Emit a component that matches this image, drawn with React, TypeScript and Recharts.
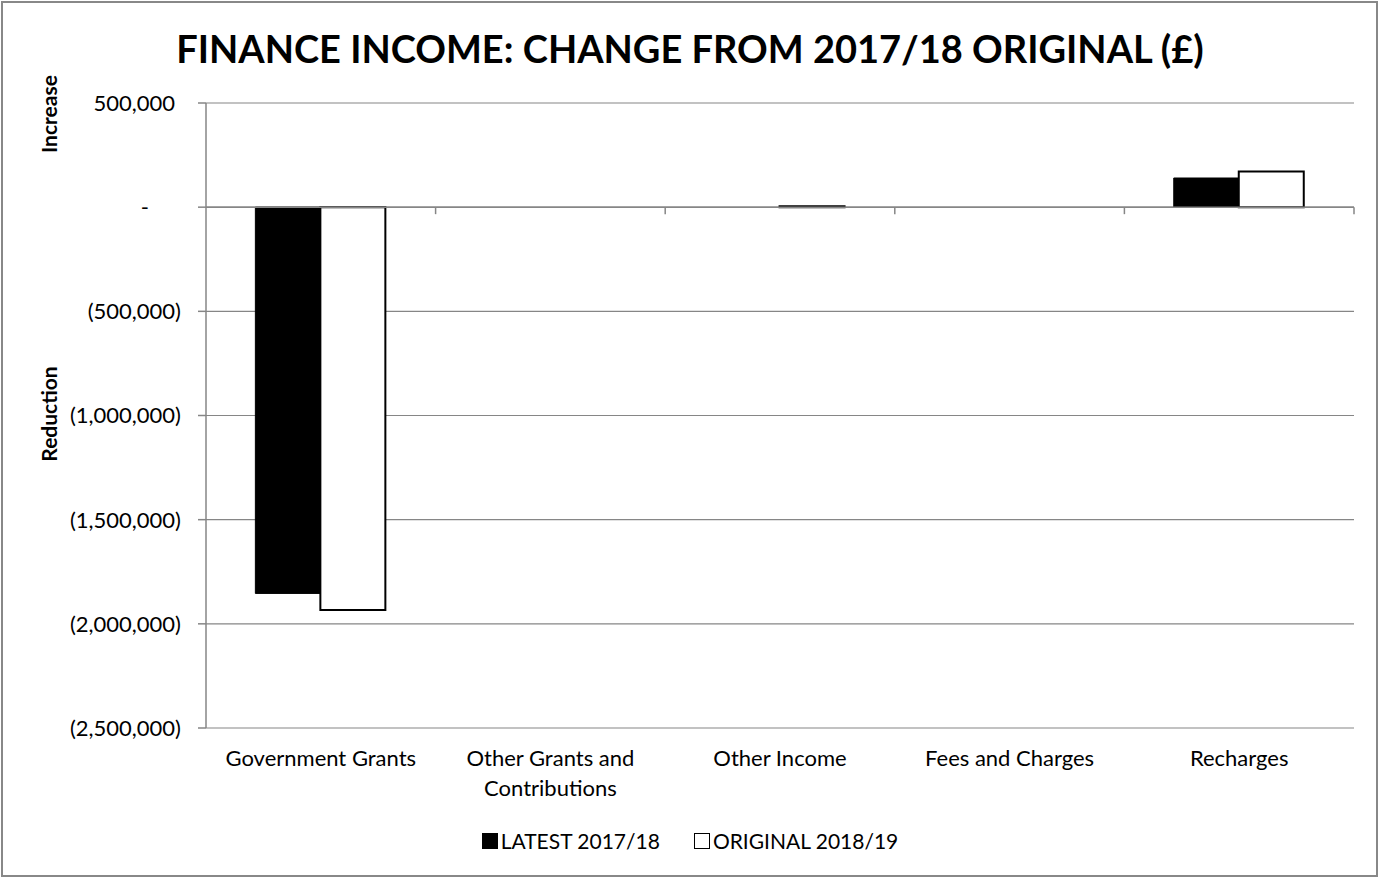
import React from "react";
import { BarChart, Bar, XAxis, YAxis, CartesianGrid, ReferenceLine } from "recharts";

const categories = [
  "Government Grants",
  "Other Grants and Contributions",
  "Other Income",
  "Fees and Charges",
  "Recharges",
];
const latest201718 = [-1854000, 0, 0, 0, 140000];
const original201819 = [-1933000, 0, 5000, 0, 171000];
const yTicks = [500000, 0, -500000, -1000000, -1500000, -2000000, -2500000];

const seriesNames = ["LATEST 2017/18", "ORIGINAL 2018/19"];

const data = categories.map((c, i) => ({
  name: c,
  latest: latest201718[i],
  original: original201819[i],
}));

const FONT = "Lato, 'Noto Sans', sans-serif";
const GRID = "#868686";
const NUM_OF_CATS = categories.length;
const LABEL_SIZE = 22;

const fmt = (v: number) => {
  if (v === 0) return "-";
  const s = Math.abs(v).toLocaleString("en-GB");
  return v < 0 ? `(${s})` : s;
};

let measureCtx: CanvasRenderingContext2D | null = null;
const measure = (s: string) => {
  if (!measureCtx) {
    const c = document.createElement("canvas");
    measureCtx = c.getContext("2d");
  }
  if (!measureCtx) return s.length * LABEL_SIZE * 0.5;
  measureCtx.font = `${LABEL_SIZE}px Lato`;
  return measureCtx.measureText(s).width;
};

const wrap = (s: string, maxW: number) => {
  const words = s.split(" ");
  const lines: string[] = [];
  let cur = "";
  words.forEach((w) => {
    const t = cur ? cur + " " + w : w;
    if (cur && measure(t) > maxW) {
      lines.push(cur);
      cur = w;
    } else cur = t;
  });
  if (cur) lines.push(cur);
  return lines;
};

const YTick = (props: any) => {
  const { x, y, payload } = props;
  const v = payload.value as number;
  const dx = v < 0 ? 0 : v > 0 ? -6 : -32;
  return (
    <text x={x + dx} y={y} dy="0.36em" textAnchor="end" fontFamily={FONT} fontSize={LABEL_SIZE} fill="#000">
      {fmt(v)}
    </text>
  );
};

const XTick = (props: any) => {
  const { x, y, payload } = props;
  const lines = wrap(String(payload.value), 205);
  return (
    <text x={x} y={y + 30} textAnchor="middle" fontFamily={FONT} fontSize={LABEL_SIZE} fill="#000">
      {lines.map((l, i) => (
        <tspan key={i} x={x} dy={i === 0 ? 0 : 30}>
          {l}
        </tspan>
      ))}
    </text>
  );
};

const ZeroAxis = (props: any) => {
  const { x1, y1, x2, y2 } = props;
  const step = (x2 - x1) / NUM_OF_CATS;
  const ticks = [];
  for (let i = 1; i <= NUM_OF_CATS; i++) {
    const tx = x1 + i * step;
    ticks.push(<line key={i} x1={tx} y1={y1} x2={tx} y2={y1 + 7} stroke={GRID} strokeWidth={1.5} />);
  }
  return (
    <g>
      <line x1={x1} y1={y1} x2={x2} y2={y2} stroke={GRID} strokeWidth={1.5} />
      {ticks}
    </g>
  );
};

export default function App() {
  return (
    <div style={{ position: "absolute", left: 0, top: 0, width: 1380, height: 879, background: "#fff" }}>
      <div
        style={{
          position: "absolute",
          left: 1,
          top: 1,
          width: 1377,
          height: 876,
          border: "2px solid #888",
          boxSizing: "border-box",
        }}
      />
      <div
        style={{
          position: "absolute",
          left: 0,
          width: 1380,
          top: 23,
          textAlign: "center",
          fontFamily: FONT,
          fontWeight: 700,
          fontSize: 38,
          lineHeight: "50px",
          color: "#000",
        }}
      >
        FINANCE INCOME: CHANGE FROM 2017/18 ORIGINAL (£)
      </div>
      <div style={{ position: "absolute", left: 0, top: 0 }}>
        <BarChart
          width={1380}
          height={879}
          data={data}
          margin={{ top: 103, right: 26, bottom: 91, left: 0 }}
          barCategoryGap="21.5%"
          barGap={0}
        >
          <CartesianGrid horizontal vertical={false} stroke={GRID} strokeWidth={1.2} />
          <XAxis
            dataKey="name"
            height={60}
            axisLine={false}
            tickLine={false}
            interval={0}
            tick={<XTick />}
          />
          <YAxis
            width={206}
            domain={[-2500000, 500000]}
            ticks={yTicks}
            interval={0}
            axisLine={{ stroke: GRID, strokeWidth: 1.5 }}
            tickLine={{ stroke: GRID, strokeWidth: 1.5 }}
            tickSize={8}
            tickMargin={17}
            tick={<YTick />}
          />
          <ReferenceLine y={0} shape={<ZeroAxis />} />
          <Bar dataKey="latest" name={seriesNames[0]} fill="#000" stroke="#000" strokeWidth={1} isAnimationActive={false} />
          <Bar dataKey="original" name={seriesNames[1]} fill="#fff" stroke="#000" strokeWidth={2} isAnimationActive={false} />
        </BarChart>
      </div>
      <div
        style={{
          position: "absolute",
          left: 48,
          top: 114,
          transform: "translate(-50%, -50%) rotate(-90deg)",
          fontFamily: FONT,
          fontWeight: 700,
          fontSize: 21,
          whiteSpace: "nowrap",
        }}
      >
        Increase
      </div>
      <div
        style={{
          position: "absolute",
          left: 48,
          top: 414,
          transform: "translate(-50%, -50%) rotate(-90deg)",
          fontFamily: FONT,
          fontWeight: 700,
          fontSize: 21,
          whiteSpace: "nowrap",
        }}
      >
        Reduction
      </div>
      <div
        style={{
          position: "absolute",
          left: 0,
          width: 1380,
          top: 828,
          display: "flex",
          justifyContent: "center",
          alignItems: "center",
          fontFamily: FONT,
          fontSize: 21,
          color: "#000",
        }}
      >
        <span style={{ display: "inline-block", width: 16, height: 16, background: "#000", marginRight: 3 }} />
        <span style={{ marginRight: 34 }}>{seriesNames[0]}</span>
        <span style={{ display: "inline-block", width: 16, height: 16, background: "#fff", border: "1.5px solid #000", marginRight: 3, boxSizing: "border-box" }} />
        <span>{seriesNames[1]}</span>
      </div>
    </div>
  );
}
